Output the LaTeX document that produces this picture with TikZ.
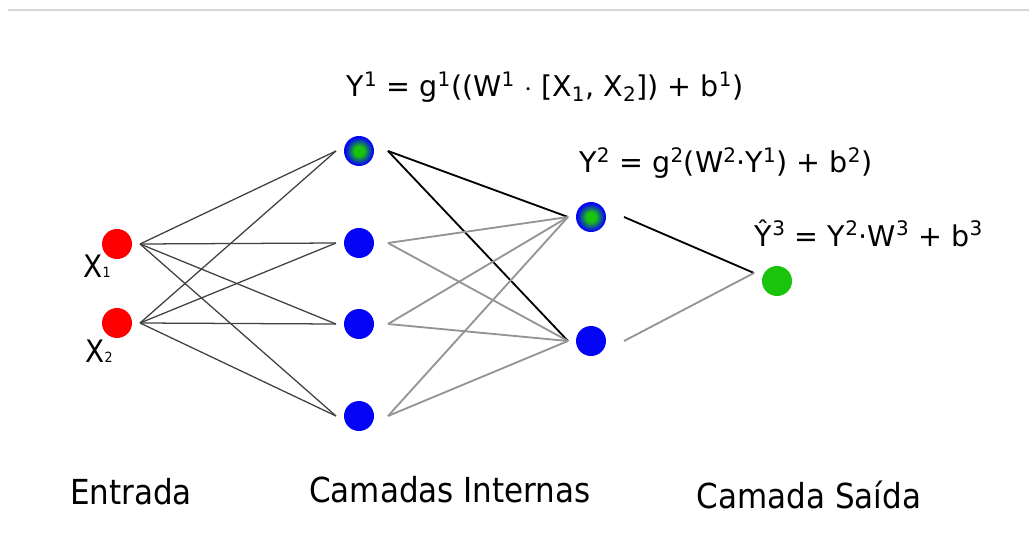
\documentclass[tikz,border=0pt]{standalone}
\usepackage{fontspec}
\setmainfont{DejaVu Sans}
\newfontfamily\condfont{DejaVu Sans Condensed}
\usetikzlibrary{positioning}

\definecolor{outgreen}{RGB}{26,196,12}
\definecolor{neuronblue}{RGB}{5,5,245}
\pgfdeclareradialshading{mixed}{\pgfpoint{0bp}{0bp}}{color(0bp)=(outgreen); color(8bp)=(outgreen); color(23bp)=(neuronblue); color(50bp)=(neuronblue)}

\begin{document}
\begin{tikzpicture}[x=0.025cm, y=-0.025cm,
    neuron/.style={circle, minimum size=0.75cm, inner sep=0pt, outer sep=0.2cm},
    inlink/.style={draw=black!75, line width=0.9pt},
    darklink/.style={draw=black, line width=1.3pt},
    greylink/.style={draw=black!42, line width=1.3pt},
    formula/.style={font=\fontsize{20.3}{24}\selectfont},
    layer/.style={font=\condfont\fontsize{24.5}{28}\selectfont}]
    \useasboundingbox (0,0) rectangle (1029,557);
    \draw[black!16, line width=0.8pt] (8,10) -- (1029,10);
%
    \node[neuron, fill=red] (x1) at (117,244) {};
    \node[neuron, fill=red] (x2) at (117,323) {};
    \node[neuron, shading=mixed] (h1) at (359,151) {};
    \node[neuron, fill=neuronblue] (h2) at (359,243) {};
    \node[neuron, fill=neuronblue] (h3) at (359,324) {};
    \node[neuron, fill=neuronblue] (h4) at (359,416) {};
    \node[neuron, shading=mixed] (k1) at (591,217) {};
    \node[neuron, fill=neuronblue] (k2) at (591,341) {};
    \node[neuron, fill=outgreen] (o) at (777,281) {};
%
    \foreach \i in {1,2}
        \foreach \j in {1,...,4}
            \draw[inlink] (x\i.east) -- (h\j.west);
    \foreach \j in {1,2}
        \draw[darklink] ([xshift=0.15cm]h1.east) -- (k\j.west);
    \foreach \i in {2,3,4}
        \foreach \j in {1,2}
            \draw[greylink] ([xshift=0.15cm]h\i.east) -- (k\j.west);
    \draw[darklink] ([xshift=0.25cm]k1.east) -- ([yshift=0.2cm]o.west);
    \draw[greylink] ([xshift=0.25cm]k2.east) -- ([yshift=0.2cm]o.west);
%
    \node[font=\condfont\fontsize{22}{26}\selectfont] (lx1) at (97,266) {X{\fontsize{10}{11}\selectfont 1}};
    \node[font=\condfont\fontsize{22}{26}\selectfont] (lx2) at (99,351) {X{\fontsize{10}{11}\selectfont 2}};
%
    \node[formula] (f1) at (545,87) {Y\textsuperscript{1} = g\textsuperscript{1}((W\textsuperscript{1} $\cdot$ [X\textsubscript{1}, X\textsubscript{2}]) + b\textsuperscript{1})};
    \node[formula] (f2) at (726,163) {Y\textsuperscript{2} = g\textsuperscript{2}(W\textsuperscript{2}·Y\textsuperscript{1}) + b\textsuperscript{2})};
    \node[formula] (f3) at (869,233) {Ŷ\textsuperscript{3} = Y\textsuperscript{2}·W\textsuperscript{3} + b\textsuperscript{3}};
%
    \node[layer] (in) at (131,492) {Entrada};
    \node[layer] (hid) at (450,490) {Camadas Internas};
    \node[layer] (out) at (809,495) {Camada Saída};
\end{tikzpicture}
\end{document}
